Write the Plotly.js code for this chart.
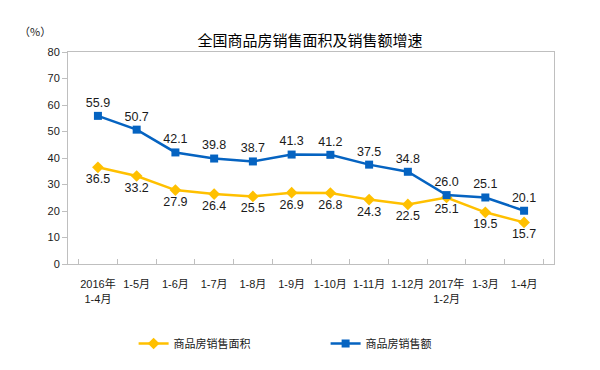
<!DOCTYPE html>
<html><head><meta charset="utf-8">
<script src="https://cdn.plot.ly/plotly-3.0.1.min.js"></script>
<style>body{margin:0;background:#fff}#c{width:600px;height:370px}</style>
</head><body><div id="c"></div>
<script>
const categories = ["2016年<br>1-4月","1-5月","1-6月","1-7月","1-8月","1-9月","1-10月","1-11月","1-12月","2017年<br>1-2月","1-3月","1-4月"];
const areaGrowth = [36.5,33.2,27.9,26.4,25.5,26.9,26.8,24.3,22.5,25.1,19.5,15.7];
const salesGrowth = [55.9,50.7,42.1,39.8,38.7,41.3,41.2,37.5,34.8,26.0,25.1,20.1];
const nameArea = "商品房销售面积";
const nameSales = "商品房销售额";

const font = "Liberation Sans, Arial, Noto Sans CJK SC, sans-serif";
const traces = [
  {x: categories, y: areaGrowth, name: nameArea, type: 'scatter', mode: 'lines+markers+text',
   text: areaGrowth.map(v => v.toFixed(1)), textposition: 'bottom center',
   textfont: {size: 12.5, color: '#1a1a1a', family: font},
   line: {color: '#FFC000', width: 2.5}, marker: {symbol: 'diamond', size: 9, color: '#FFC000'}},
  {x: categories, y: salesGrowth, name: nameSales, type: 'scatter', mode: 'lines+markers+text',
   text: salesGrowth.map(v => v.toFixed(1)), textposition: 'top center',
   textfont: {size: 12.5, color: '#1a1a1a', family: font},
   line: {color: '#0563C1', width: 2.5}, marker: {symbol: 'square', size: 8, color: '#0563C1'}}
];
const layout = {
  width: 600, height: 370,
  margin: {l: 68, r: 46, t: 52, b: 102},
  paper_bgcolor: '#fff', plot_bgcolor: '#fff',
  font: {family: font, size: 11, color: '#1a1a1a'},
  title: {text: '全国商品房销售面积及销售额增速', x: 310/600, xanchor: 'center', y: 1 - 41/370, yanchor: 'middle',
          font: {size: 15, color: '#000', family: 'Noto Sans CJK SC, sans-serif'}},
  showlegend: true,
  legend: {orientation: 'h', x: 0.135, xanchor: 'left', y: -0.375, yanchor: 'middle',
           font: {size: 11, family: 'Noto Sans CJK SC, sans-serif', color: '#1a1a1a'},
           entrywidth: 147, entrywidthmode: 'pixels', itemwidth: 30},
  xaxis: {type: 'category', showline: true, linecolor: '#BFBFBF', linewidth: 1, mirror: true,
          ticks: 'inside', tickson: 'boundaries', ticklen: 5, tickcolor: '#BFBFBF',
          showgrid: false, tickfont: {size: 11}, tickangle: 0, fixedrange: true, ticklabelstandoff: 10},
  yaxis: {range: [0, 80], dtick: 10, showline: true, linecolor: '#BFBFBF', linewidth: 1, mirror: true,
          ticks: 'outside', ticklen: 5, tickcolor: '#BFBFBF', showgrid: false, zeroline: false,
          tickfont: {size: 11}, fixedrange: true},
  annotations: [{text: '（%）', xref: 'paper', yref: 'paper', x: -0.105, y: 1.1, xanchor: 'left', yanchor: 'middle',
                 showarrow: false, font: {size: 11, family: 'Noto Sans CJK SC, sans-serif', color: '#1a1a1a'}}]
};
Plotly.newPlot('c', traces, layout, {displayModeBar: false, staticPlot: true});
</script></body></html>
